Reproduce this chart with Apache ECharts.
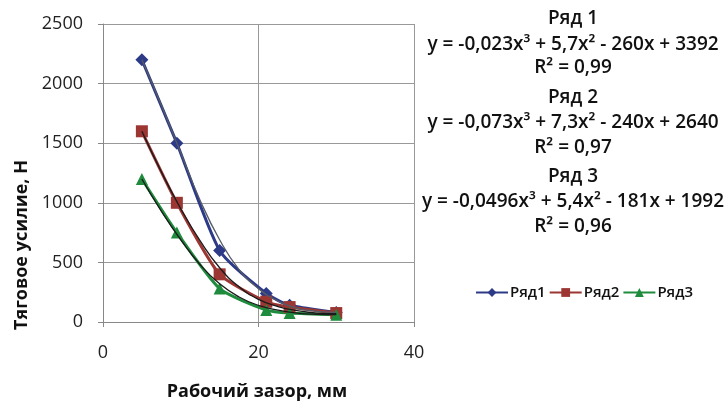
<!DOCTYPE html>
<html><head><meta charset="utf-8">
<script src="https://cdn.jsdelivr.net/npm/echarts@6/dist/echarts.min.js"></script>
<style>html,body{margin:0;padding:0;background:#fff}#c{width:727px;height:403px}</style>
</head><body><div id="c"></div>
<script>
var xValues = [5, 9.5, 15, 21, 24, 30];
var series1 = [2200, 1500, 600, 240, 140, 80];
var series2 = [1600, 1000, 400, 170, 125, 75];
var series3 = [1200, 750, 280, 100, 75, 60];
var trendX = [5, 7.5, 10, 12.5, 15, 17.5, 20, 22.5, 25, 27.5, 30];
var trend1 = [2200, 1820, 1420, 1020, 690, 440, 280, 175, 115, 90, 80];
var trend2 = [1600, 1260, 950, 680, 455, 295, 190, 130, 95, 75, 70];
var trend3 = [1200, 930, 690, 480, 320, 210, 140, 100, 75, 65, 62];
var seriesNames = ['Ряд1', 'Ряд2', 'Ряд3'];
var eqLines = ['Ряд 1', 'y = -0,023x³ + 5,7x² - 260x + 3392', 'R² = 0,99',
               'Ряд 2', 'y = -0,073x³ + 7,3x² - 240x + 2640', 'R² = 0,97',
               'Ряд 3', 'y = -0,0496x³ + 5,4x² - 181x + 1992', 'R² = 0,96'];
var yTicks = [0, 500, 1000, 1500, 2000, 2500];
var xTicks = [0, 20, 40];

function pairs(xs, ys){ return xs.map(function(x,i){return [x, ys[i]];}); }
var FONT = '"Open Sans", "DejaVu Sans", sans-serif';
var colors = ['#2C3A87', '#9B3632', '#1F8B3C'];
var trendColors = ['#555a66', '#1a1a1a', '#1a1a1a'];
var symbols = ['diamond', 'rect', 'triangle'];
var sizes = [13, 12, 12];
var data = [series1, series2, series3];
var trends = [trend1, trend2, trend3];

var series = [];
for (var i = 0; i < 3; i++) {
  series.push({
    name: seriesNames[i], type: 'line', smooth: 0.2,
    data: pairs(xValues, data[i]),
    symbol: symbols[i], symbolSize: sizes[i],
    lineStyle: {color: colors[i], width: 3},
    itemStyle: {color: colors[i]},
    z: 2
  });
}
for (var j = 0; j < 3; j++) {
  series.push({
    name: 'trend' + j, type: 'line', smooth: true, showSymbol: false,
    data: pairs(trendX, trends[j]),
    lineStyle: {color: trendColors[j], width: 1.3},
    silent: true, z: 3
  });
}

var eqY = [19, 45, 68, 98, 123, 148, 177, 202, 227];
var graphics = eqLines.map(function(t, k){
  return {type: 'text', x: 573, y: eqY[k], style: {text: t, align: 'center', verticalAlign: 'middle',
    fill: '#111', font: '600 19px ' + FONT}};
});
graphics.push({type: 'text', x: 22, y: 245, rotation: Math.PI/2,
  style: {text: 'Тяговое усилие, Н', align: 'center', verticalAlign: 'middle', fill: '#111', font: 'bold 18px ' + FONT}});
graphics.push({type: 'text', x: 257, y: 392,
  style: {text: 'Рабочий зазор, мм', align: 'center', verticalAlign: 'middle', fill: '#111', font: 'bold 18px ' + FONT}});

var chart = echarts.init(document.getElementById('c'), null, {renderer: 'canvas'});
chart.setOption({
  animation: false,
  backgroundColor: '#fff',
  grid: {left: 103, right: 313, top: 24, bottom: 81, containLabel: false},
  xAxis: {type: 'value', min: xTicks[0], max: xTicks[xTicks.length-1], interval: 20,
    axisLine: {show: true, onZero: false, lineStyle: {color: '#888', width: 1}},
    axisTick: {show: true, length: 5, lineStyle: {color: '#888'}},
    splitLine: {show: true, lineStyle: {color: '#999', width: 1}},
    axisLabel: {color: '#222', fontSize: 18, fontFamily: FONT, margin: 22, formatter: function(v){return String(v);}}},
  yAxis: {type: 'value', min: yTicks[0], max: yTicks[yTicks.length-1], interval: 500,
    axisLine: {show: true, lineStyle: {color: '#888', width: 1}},
    axisTick: {show: true, length: 5, lineStyle: {color: '#888'}},
    splitLine: {show: true, lineStyle: {color: '#999', width: 1}},
    axisLabel: {color: '#222', fontSize: 18, fontFamily: FONT, margin: 20, formatter: function(v){return String(v);}}},
  legend: {data: seriesNames, left: 470, top: 280, itemGap: 3, itemWidth: 32, itemHeight: 11,
    textStyle: {color: '#111', fontSize: 15, fontWeight: 600, fontFamily: FONT, padding: [0,0,0,-3]}},
  graphic: graphics,
  series: series
});
</script></body></html>
